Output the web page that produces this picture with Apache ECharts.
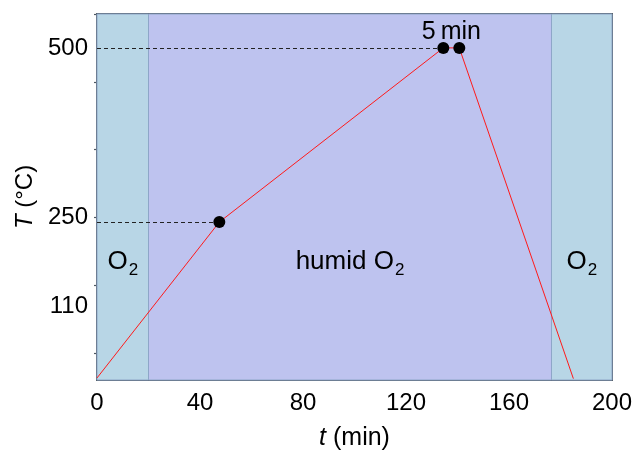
<!DOCTYPE html>
<html>
<head>
<meta charset="utf-8">
<script src="https://cdn.jsdelivr.net/npm/echarts@6/dist/echarts.min.js"></script>
<style>html,body{margin:0;padding:0;background:#fff}#c{width:632px;height:455px}</style>
</head>
<body>
<div id="c"></div>
<script>
// ---- data ----
var profileT = [0, 47.5, 134.5, 140.7, 185];        // time (min)
var profileTemp = [13, 243, 500, 500, 12];            // temperature (°C)
var markerT = [47.5, 134.5, 140.7];
var markerTemp = [243, 500, 500];
var phaseStarts = [0, 20, 176.5];
var phaseEnds = [20, 176.5, 200];
var phaseNames = ['O2', 'humid O2', 'O2'];
var yLabelValues = [110, 250, 500];
var yTickValues = [50, 100, 150, 200, 250, 300, 350, 400, 450, 500, 550];
var yMajorRight = [100, 200, 300, 400, 500];
var yMinorRight = [50, 150, 250, 350, 450, 550];
var dwellLabel = '5\u2009min';

var FONT = 'Liberation Sans, Arial, sans-serif';
var AX = '#4d5761';
var TXT = '#000';
var C_O2 = '#b8d6e6';
var C_HUM = '#bec3ef';

var lineData = profileT.map(function (t, i) { return [t, profileTemp[i]]; });
var markerData = markerT.map(function (t, i) { return [t, markerTemp[i]]; });

var gasRich = {
  n: { fontSize: 26, fontFamily: FONT, color: TXT },
  s: { fontSize: 17, fontFamily: FONT, color: TXT, padding: [15, 0, 0, 1] }
};
function gasText(name) {
  return name.replace('O2', '{n|O}{s|2}').replace(/^humid /, '{n|humid }');
}
var areas = phaseNames.map(function (n, i) {
  return [{
    xAxis: phaseStarts[i],
    itemStyle: { color: n === 'O2' ? C_O2 : C_HUM, borderColor: '#8ea6c8', borderWidth: 1 },
    label: {
      show: true, formatter: gasText(n), position: ['50%', '67.8%'],
      align: 'center', verticalAlign: 'middle', rich: gasRich
    }
  }, { xAxis: phaseEnds[i] }];
});

var chart = echarts.init(document.getElementById('c'), null, { renderer: 'canvas' });
chart.setOption({
  animation: false,
  grid: { left: 97, right: 20, top: 14, bottom: 75, containLabel: false, outerBoundsMode: 'none' },
  xAxis: [{
    type: 'value', min: 0, max: 200, interval: 40, position: 'bottom',
    name: '{i|t} (min)', nameLocation: 'middle', nameGap: 46,
    nameTextStyle: { fontSize: 25, fontFamily: FONT, color: TXT,
      rich: { i: { fontStyle: 'italic', fontSize: 25, fontFamily: FONT, color: TXT } } },
    axisLine: { show: true, onZero: false, lineStyle: { color: AX, width: 2 } },
    axisTick: { show: true, inside: true, length: 7, lineStyle: { color: AX, width: 1.5 } },
    minorTick: { show: true, splitNumber: 2, length: 4, lineStyle: { color: AX, width: 1.2 } },
    axisLabel: { fontSize: 24, fontFamily: FONT, color: TXT, margin: 11 },
    splitLine: { show: false }
  }, {
    type: 'value', min: 0, max: 200, interval: 20, position: 'top',
    axisLine: { show: true, onZero: false, lineStyle: { color: AX, width: 2 } },
    axisTick: { show: true, inside: true, length: 6, lineStyle: { color: AX, width: 1.5 } },
    axisLabel: { show: false }, splitLine: { show: false }
  }],
  yAxis: [{
    type: 'value', min: 10, max: 550, position: 'left',
    name: '{i|T} (°C)', nameLocation: 'middle', nameGap: 60, nameRotate: 90,
    nameTextStyle: { fontSize: 24, fontFamily: FONT, color: TXT,
      rich: { i: { fontStyle: 'italic', fontSize: 24, fontFamily: FONT, color: TXT } } },
    axisLine: { show: true, onZero: false, lineStyle: { color: AX, width: 2 } },
    axisTick: { show: true, inside: true, length: 3, customValues: yTickValues, lineStyle: { color: AX, width: 1.2 } },
    axisLabel: {
      fontSize: 24, fontFamily: FONT, color: TXT, margin: 9, customValues: yLabelValues,
      formatter: function (v) { return v === 110 ? '{u|110}' : String(v); },
      rich: { u: { fontSize: 24, fontFamily: FONT, color: TXT, padding: [0, 0, 11, 0] } }
    },
    splitLine: { show: false }
  }, {
    type: 'value', min: 10, max: 550, position: 'right',
    axisLine: { show: true, onZero: false, lineStyle: { color: AX, width: 2 } },
    axisTick: { show: true, inside: true, length: 6, customValues: yMajorRight, lineStyle: { color: AX, width: 1.5 } },
    axisLabel: { show: false }, splitLine: { show: false }
  }, {
    type: 'value', min: 10, max: 550, position: 'right',
    axisLine: { show: false },
    axisTick: { show: true, inside: true, length: 3, customValues: yMinorRight, lineStyle: { color: AX, width: 1.2 } },
    axisLabel: { show: false }, splitLine: { show: false }
  }],
  series: [{
    type: 'line', data: lineData, symbol: 'none', z: 3,
    lineStyle: { color: '#ff1a1a', width: 1 },
    markArea: { silent: true, z: 1, data: areas },
    markLine: {
      silent: true, symbol: 'none', z: 2,
      lineStyle: { color: '#222', width: 1, type: [4, 3] },
      label: { show: false },
      data: [
        [{ coord: [0, markerTemp[0]] }, { coord: [markerT[0], markerTemp[0]] }],
        [{ coord: [0, markerTemp[1]] }, { coord: [markerT[1], markerTemp[1]] }]
      ]
    }
  }, {
    type: 'scatter', data: markerData, symbol: 'circle', symbolSize: 12, z: 4,
    itemStyle: { color: '#000', opacity: 1 },
    markPoint: {
      symbol: 'circle', symbolSize: 0,
      label: { show: true, formatter: dwellLabel, fontSize: 25, fontFamily: FONT, color: TXT,
        offset: [0, -16] },
      data: [{ coord: [(markerT[1] + markerT[2]) / 2, markerTemp[1]] }]
    }
  }]
});
</script>
</body>
</html>
